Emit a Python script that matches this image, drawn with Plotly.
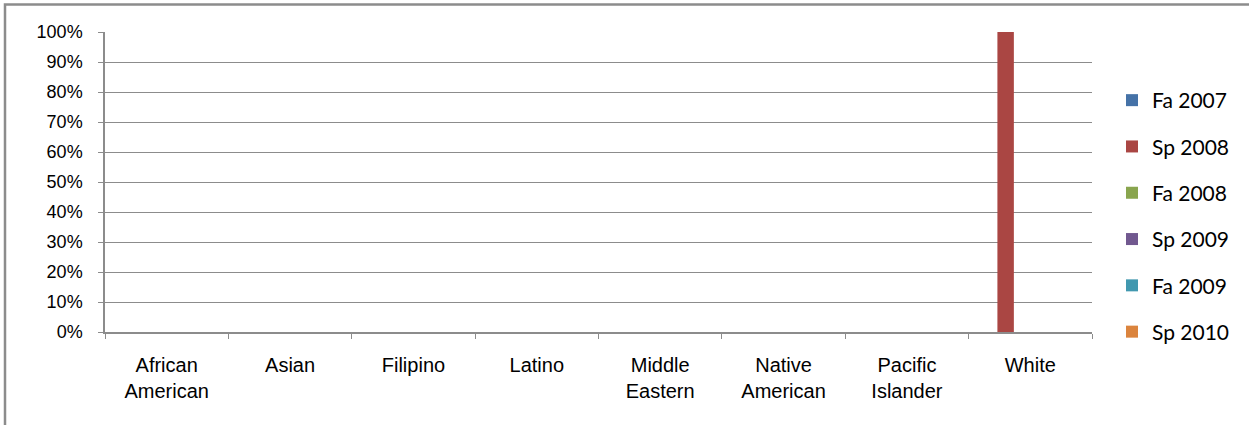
import plotly.graph_objects as go

categories = ["African<br>American", "Asian", "Filipino", "Latino",
              "Middle<br>Eastern", "Native<br>American", "Pacific<br>Islander", "White"]
series_names = ["Fa 2007", "Sp 2008", "Fa 2008", "Sp 2009", "Fa 2009", "Sp 2010"]
fa2007 = [0, 0, 0, 0, 0, 0, 0, 0]
sp2008 = [0, 0, 0, 0, 0, 0, 0, 1.0]
fa2008 = [0, 0, 0, 0, 0, 0, 0, 0]
sp2009 = [0, 0, 0, 0, 0, 0, 0, 0]
fa2009 = [0, 0, 0, 0, 0, 0, 0, 0]
sp2010 = [0, 0, 0, 0, 0, 0, 0, 0]
values = [fa2007, sp2008, fa2008, sp2009, fa2009, sp2010]
colors = ["#4572A7", "#AA4643", "#89A54E", "#71588F", "#4198AF", "#DB843D"]

W, H = 1249, 425
L, R, T, B = 105, 1092, 32, 332

fig = go.Figure()
for i, (name, vals) in enumerate(zip(series_names, values)):
    fig.add_trace(go.Bar(x=categories, y=vals, name=name,
                         marker=dict(color=colors[i], line=dict(width=0)),
                         legendgroup=f"g{i}"))

grey = "#8c8c8c"
fig.update_layout(
    width=W, height=H,
    margin=dict(l=L, r=W - R, t=T, b=H - B, pad=0),
    paper_bgcolor="white", plot_bgcolor="white",
    barmode="group", bargap=0.2, bargroupgap=0,
    showlegend=True,
    legend=dict(x=(1112 - L) / (R - L), xanchor="left",
                y=1 - (80 - T) / (B - T), yanchor="top",
                font=dict(family="Lato", size=21, color="black"),
                tracegroupgap=16, bgcolor="rgba(0,0,0,0)"),
    font=dict(family="Liberation Sans", color="black"),
    xaxis=dict(showline=True, linecolor=grey, linewidth=1.5,
               ticks="outside", tickson="boundaries", ticklen=5, tickcolor=grey,
               tickwidth=1.3, showgrid=False,
               tickfont=dict(family="Liberation Sans", size=20, color="black"),
               ticklabelstandoff=14, fixedrange=True),
    yaxis=dict(range=[0, 1], dtick=0.1, tickformat=".0%",
               showline=True, linecolor=grey, linewidth=1.5,
               ticks="outside", ticklen=5, tickcolor=grey, tickwidth=1.3,
               showgrid=True, gridcolor=grey, gridwidth=1.3, zeroline=False,
               tickfont=dict(family="Liberation Sans", size=18, color="black"),
               ticklabelstandoff=12, fixedrange=True),
)

# outer chart frame (top and left edges visible)
fig.add_shape(type="rect", xref="paper", yref="paper",
              x0=(5 - L) / (R - L), x1=(1270 - L) / (R - L),
              y0=1 - (440 - T) / (B - T), y1=1 + (T - 4.5) / (B - T),
              line=dict(color=grey, width=2.5), layer="below")

fig.write_html("out.html", config={"displayModeBar": False},
               post_script="document.body.style.margin='0';")
